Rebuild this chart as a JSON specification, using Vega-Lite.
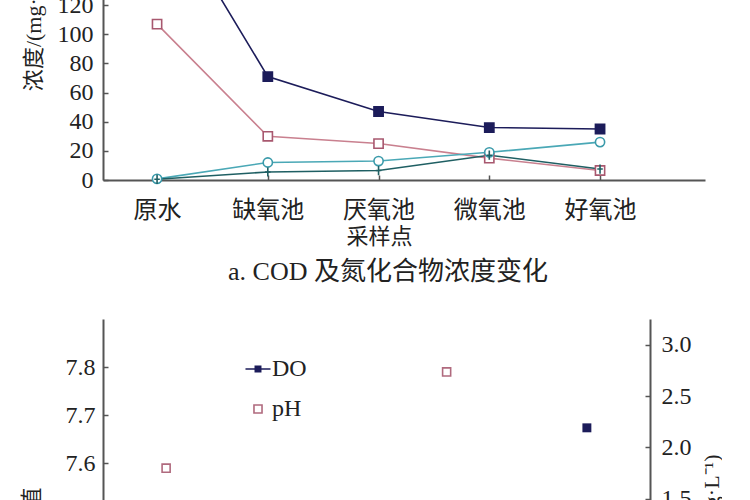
{
  "$schema": "https://vega.github.io/schema/vega-lite/v6.json",
  "padding": {"left": 20, "top": -126, "right": 0, "bottom": 0},
  "spacing": 34,
  "resolve": {
    "scale": {"color": "independent", "fill": "independent", "shape": "independent", "x": "independent"},
    "legend": {"color": "independent", "fill": "independent", "shape": "independent"}
  },
  "config": {
    "view": {"stroke": null},
    "font": "Liberation Serif, Noto Sans CJK SC",
    "axis": {
      "labelFont": "Liberation Serif, Noto Sans CJK SC",
      "labelFontSize": 24,
      "labelColor": "#222",
      "titleFont": "Liberation Serif, Noto Sans CJK SC",
      "titleFontSize": 22,
      "titleFontWeight": "normal",
      "titleColor": "#222",
      "domainColor": "#555",
      "domainWidth": 2,
      "tickColor": "#555",
      "tickWidth": 1.5,
      "tickSize": -5,
      "grid": false
    },
    "legend": {
      "orient": "none",
      "legendX": 143,
      "legendY": 38,
      "padding": 0,
      "labelFont": "Liberation Serif",
      "labelFontSize": 24,
      "labelColor": "#222",
      "symbolSize": 320,
      "symbolStrokeWidth": 1.6,
      "rowPadding": 16,
      "labelOffset": 2
    }
  },
  "vconcat": [
    {
      "width": 602,
      "height": 306,
      "data": {
        "values": [
          {"site": "原水", "series": "COD", "value": 197},
          {"site": "缺氧池", "series": "COD", "value": 71},
          {"site": "厌氧池", "series": "COD", "value": 47},
          {"site": "微氧池", "series": "COD", "value": 36},
          {"site": "好氧池", "series": "COD", "value": 35},
          {"site": "原水", "series": "TN", "value": 107},
          {"site": "缺氧池", "series": "TN", "value": 30},
          {"site": "厌氧池", "series": "TN", "value": 25},
          {"site": "微氧池", "series": "TN", "value": 15},
          {"site": "好氧池", "series": "TN", "value": 6.5},
          {"site": "原水", "series": "NO₃⁻-N", "value": 0.8},
          {"site": "缺氧池", "series": "NO₃⁻-N", "value": 12},
          {"site": "厌氧池", "series": "NO₃⁻-N", "value": 13},
          {"site": "微氧池", "series": "NO₃⁻-N", "value": 19},
          {"site": "好氧池", "series": "NO₃⁻-N", "value": 26},
          {"site": "原水", "series": "NH₄⁺-N", "value": 0.5},
          {"site": "缺氧池", "series": "NH₄⁺-N", "value": 5.5},
          {"site": "厌氧池", "series": "NH₄⁺-N", "value": 6.5},
          {"site": "微氧池", "series": "NH₄⁺-N", "value": 17},
          {"site": "好氧池", "series": "NH₄⁺-N", "value": 7.5}
        ]
      },
      "title": {
        "text": "a. COD 及氮化合物浓度变化",
        "orient": "bottom",
        "fontSize": 26,
        "fontWeight": "normal",
        "color": "#222",
        "dx": -16,
        "offset": 12
      },
      "encoding": {
        "x": {
          "field": "site",
          "type": "ordinal",
          "sort": ["原水", "缺氧池", "厌氧池", "微氧池", "好氧池"],
          "scale": {"type": "point", "padding": 0.718, "align": 0.34},
          "axis": {"title": "采样点", "labelAngle": 0, "labelPadding": 23, "titleX": 276, "titlePadding": 4}
        },
        "y": {
          "field": "value",
          "type": "quantitative",
          "scale": {"domain": [0, 210], "nice": false},
          "axis": {
            "title": "浓度/(mg·L⁻¹)",
            "values": [0, 20, 40, 60, 80, 100, 120, 140, 160, 180, 200],
            "labelPadding": 15,
            "titlePadding": 12
          }
        },
        "color": {
          "field": "series",
          "type": "nominal",
          "scale": {
            "domain": ["COD", "TN", "NO₃⁻-N", "NH₄⁺-N"],
            "range": ["#1c1c5a", "#c9808f", "#4aa8b6", "#1f5f63"]
          },
          "legend": null
        }
      },
      "layer": [
        {"mark": {"type": "line", "strokeWidth": 1.6}},
        {
          "mark": {"type": "point", "opacity": 1, "strokeWidth": 1.6, "size": 85},
          "encoding": {
            "shape": {
              "field": "series",
              "type": "nominal",
              "scale": {
                "domain": ["COD", "TN", "NO₃⁻-N", "NH₄⁺-N"],
                "range": ["square", "square", "circle", "M0,-1V1M-0.6,0H0.6"]
              },
              "legend": null
            },
            "fill": {
              "field": "series",
              "type": "nominal",
              "scale": {
                "domain": ["COD", "TN", "NO₃⁻-N", "NH₄⁺-N"],
                "range": ["#1c1c5a", "white", "white", "#1f5f63"]
              },
              "legend": null
            },
            "stroke": {
              "field": "series",
              "type": "nominal",
              "scale": {
                "domain": ["COD", "TN", "NO₃⁻-N", "NH₄⁺-N"],
                "range": ["#1c1c5a", "#a8586f", "#3a9aaa", "#1f5f63"]
              },
              "legend": null
            }
          }
        }
      ]
    },
    {
      "width": 547,
      "height": 385,
      "data": {
        "values": [
          {"site": "缺氧池", "series": "pH", "value": 7.59},
          {"site": "微氧池", "series": "pH", "value": 7.79},
          {"site": "好氧池", "series": "DO", "value": 2.19}
        ]
      },
      "encoding": {
        "x": {
          "field": "site",
          "type": "ordinal",
          "sort": ["缺氧池", "厌氧池", "微氧池", "好氧池"],
          "scale": {"type": "point", "padding": 0.45, "domain": ["缺氧池", "厌氧池", "微氧池", "好氧池"]},
          "axis": {"title": null, "labelAngle": 0, "labelPadding": 23}
        }
      },
      "layer": [
        {
          "transform": [{"filter": "datum.series === 'pH'"}],
          "mark": {"type": "point", "filled": false, "strokeWidth": 1.6, "size": 320, "opacity": 1},
          "encoding": {
            "y": {
              "field": "value",
              "type": "quantitative",
              "scale": {"domain": [7.1, 7.9], "nice": false, "zero": false},
              "axis": {
                "title": "pH值",
                "values": [7.1, 7.2, 7.3, 7.4, 7.5, 7.6, 7.7, 7.8],
                "format": ".1f",
                "labelPadding": 13,
                "titlePadding": 22
              }
            },
            "color": {
              "field": "series",
              "type": "nominal",
              "scale": {"domain": ["DO", "pH"], "range": ["#1c1c5a", "#b06a7e"]},
              "legend": {"title": null}
            },
            "fill": {
              "field": "series",
              "type": "nominal",
              "scale": {"domain": ["DO", "pH"], "range": ["#1c1c5a", "white"]},
              "legend": {"title": null}
            },
            "shape": {
              "field": "series",
              "type": "nominal",
              "scale": {
                "domain": ["DO", "pH"],
                "range": ["M-1.4,0H1.4M-0.3,-0.3H0.3V0.3H-0.3Z", "M-0.45,-0.45H0.45V0.45H-0.45Z"]
              },
              "legend": {"title": null}
            }
          }
        },
        {
          "transform": [{"filter": "datum.series === 'DO'"}],
          "mark": {"type": "point", "shape": "square", "filled": true, "size": 80, "opacity": 1, "color": "#1c1c5a"},
          "encoding": {
            "y": {
              "field": "value",
              "type": "quantitative",
              "scale": {"domain": [-0.5, 3.25], "nice": false, "zero": false},
              "axis": {
                "orient": "right",
                "title": "DO/(mg·L⁻¹)",
                "titleAngle": 270,
                "titleBaseline": "top",
                "values": [0, 0.5, 1, 1.5, 2, 2.5, 3],
                "format": ".1f",
                "labelPadding": 16,
                "titlePadding": 10
              }
            }
          }
        }
      ],
      "resolve": {"scale": {"y": "independent"}}
    }
  ]
}
